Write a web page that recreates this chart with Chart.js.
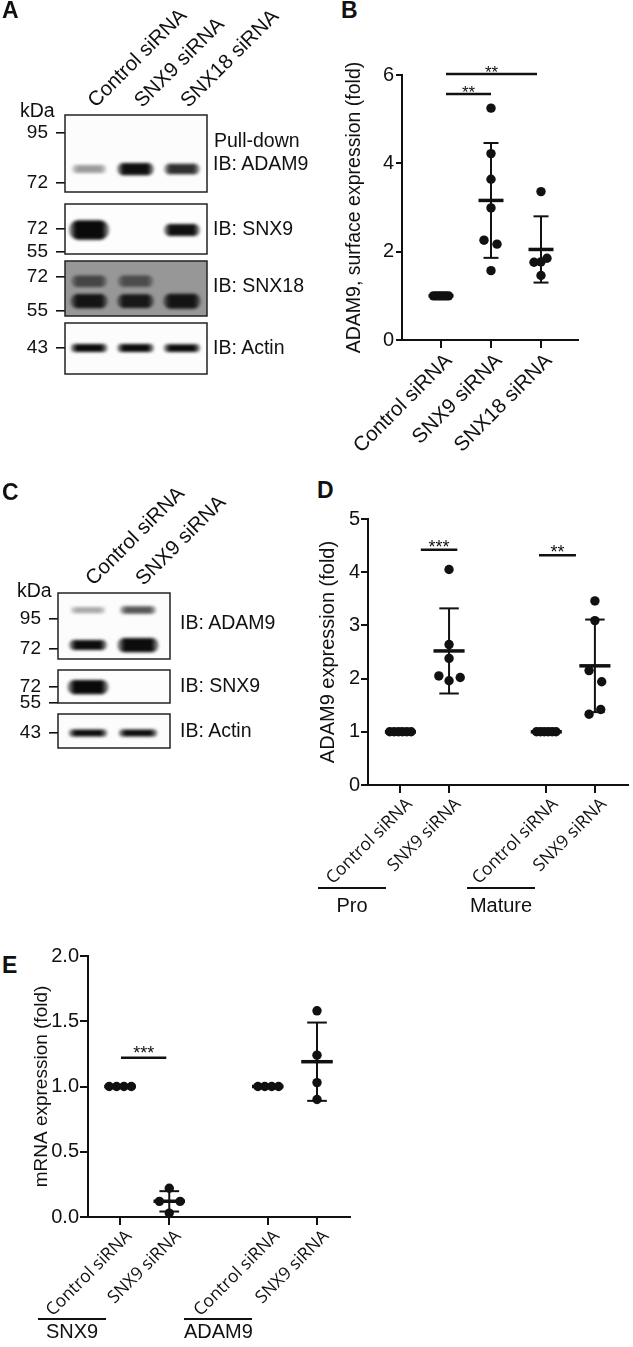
<!DOCTYPE html>
<html>
<head>
<meta charset="utf-8">
<script src="https://cdn.jsdelivr.net/npm/chart.js@4.4.1/dist/chart.umd.min.js"></script>
<style>
  body { margin: 0; background: #fff; }
  #fig { position: relative; width: 633px; height: 1347px; overflow: hidden; color: #111;
         font-family: "Liberation Sans", Arial, sans-serif; }
  #fig canvas { position: absolute; }
  .lbl { position: absolute; white-space: nowrap; line-height: 1; font-size: 19.5px; }
  .panel { position: absolute; line-height: 1; font-size: 23px; font-weight: bold; }
  .grp { position: absolute; border-top: 2px solid #111; text-align: center; font-size: 20px; line-height: 1; }
</style>
</head>
<body>
<div id="fig"></div>
<script>
// Figure: ADAM9 / SNX9 / SNX18 knockdown panels A-E

const ink = '#111';
const sans = '"Liberation Sans", Arial, sans-serif';
const humanist = '"Open Sans", "Noto Sans", sans-serif';
Chart.defaults.font.family = sans;
Chart.defaults.color = ink;

// ---------- data ----------

// Panel A blot (bands: lane, kDa, signal)
const lanesA = ['Control siRNA', 'SNX9 siRNA', 'SNX18 siRNA'];
const probesA = ['IB: ADAM9', 'IB: SNX9', 'IB: SNX18', 'IB: Actin'];
const markersA = [[95, 72], [72, 55], [72, 55], [43]];
const kdaRangeA = [[68.5, 105], [53.7, 96.5], [52.9, 81.8], [36.2, 50.8]];
const bandsA = [
  [[0, 77.8, 0.35], [1, 77.8, 1.05], [2, 77.8, 0.75]],
  [[0, 71.2, 2.0], [2, 71.2, 0.85]],
  [[0, 69.7, 0.55], [1, 69.7, 0.5], [0, 59.5, 0.9], [1, 59.5, 0.85], [2, 59.5, 1.0]],
  [[0, 43, 1.0], [1, 43, 1.0], [2, 43, 0.95]]
];

// Panel B
const catsB = ['Control siRNA', 'SNX9 siRNA', 'SNX18 siRNA'];
const posB = [1, 2, 3];
const valsB = [
  [1, 1, 1, 1, 1, 1, 1],
  [5.25, 4.22, 3.64, 2.99, 2.26, 2.17, 1.57],
  [3.36, 1.76, 1.77, 1.85, 1.46]
];
const jitB = [
  [-0.15, -0.1, -0.05, 0, 0.05, 0.1, 0.15],
  [0, 0, 0, 0, -0.14, 0.12, 0],
  [0, -0.14, 0, 0.12, 0]
];
const meanB = [1, 3.16, 2.05];
const sdB = [0, 1.30, 0.75];
const sigB = [[1.1, 2.0, 5.57, '**'], [1.1, 2.92, 6.02, '**']];
const yTicksB = [0, 2, 4, 6];

// Panel C blot
const lanesC = ['Control siRNA', 'SNX9 siRNA'];
const probesC = ['IB: ADAM9', 'IB: SNX9', 'IB: Actin'];
const markersC = [[95, 72], [72, 55], [43]];
const kdaRangeC = [[65.7, 120.8], [55, 95.9], [38.9, 48.8]];
const bandsC = [
  [[0, 103.2, 0.3], [1, 103.2, 0.6], [0, 74.7, 1.1], [1, 74.7, 2.0]],
  [[0, 72, 2.0]],
  [[0, 43, 1.0], [1, 43, 1.0]]
];

// Panel D
const catsD = ['Control siRNA', 'SNX9 siRNA', 'Control siRNA', 'SNX9 siRNA'];
const posD = [1, 2, 4, 5];
const groupsD = ['Pro', 'Mature'];
const valsD = [
  [1, 1, 1, 1, 1, 1],
  [4.05, 2.64, 2.38, 2.05, 2.02, 1.96],
  [1, 1, 1, 1, 1, 1],
  [3.46, 3.09, 2.15, 1.94, 1.42, 1.33]
];
const jitD = [
  [-0.22, -0.13, -0.04, 0.04, 0.13, 0.22],
  [0, 0, 0, -0.21, 0.23, 0],
  [-0.2, -0.12, -0.04, 0.04, 0.12, 0.2],
  [0, 0, -0.12, 0.14, 0.12, -0.12]
];
const meanD = [1, 2.52, 1, 2.24];
const sdD = [0, 0.80, 0, 0.87];
const sigD = [[1.42, 2.17, 4.42, '***'], [3.85, 4.61, 4.32, '**']];
const yTicksD = [0, 1, 2, 3, 4, 5];

// Panel E
const catsE = ['Control siRNA', 'SNX9 siRNA', 'Control siRNA', 'SNX9 siRNA'];
const posE = [1, 2, 4, 5];
const groupsE = ['SNX9', 'ADAM9'];
const valsE = [
  [1, 1, 1, 1],
  [0.22, 0.12, 0.12, 0.03],
  [1, 1, 1, 1],
  [1.58, 1.24, 1.03, 0.90]
];
const jitE = [
  [-0.22, -0.07, 0.08, 0.23],
  [0, -0.2, 0.22, 0],
  [-0.2, -0.06, 0.08, 0.22],
  [0, 0, 0, 0]
];
const meanE = [1, 0.12, 1, 1.19];
const sdE = [0, 0.078, 0, 0.30];
const sigE = [[1.02, 1.94, 1.22, '***']];
const yTicksE = [0, 0.5, 1, 1.5, 2];

// ---------- helpers ----------

const fig = document.getElementById('fig');

function makeCanvas(left, top, w, h) {
  const c = document.createElement('canvas');
  c.width = w; c.height = h;
  c.style.left = left + 'px'; c.style.top = top + 'px';
  c.style.width = w + 'px'; c.style.height = h + 'px';
  fig.appendChild(c);
  return c;
}

function addText(txt, left, top, cls) {
  const d = document.createElement('div');
  d.className = cls;
  d.textContent = txt;
  d.style.left = left + 'px';
  d.style.top = top + 'px';
  fig.appendChild(d);
  return d;
}

function addGroup(txt, left, right, top, gap) {
  const d = addText(txt, left, top, 'grp');
  d.style.width = (right - left) + 'px';
  d.style.paddingTop = gap + 'px';
}

// one blot strip = one small chart; kDa on a log axis, lanes on a linear axis
function blot(lanes, laneRange, boxX, box, markers, range, bands, look, laneShift) {
  const withLanes = laneShift !== null;
  const [x0, x1] = boxX;
  const [top, bottom] = box;
  const cW = 300;
  const cTop = withLanes ? top - 115 : top - 20;
  const canvas = makeCanvas(0, cTop, cW, bottom - cTop + 20);

  const bandPlugin = {
    id: 'bands',
    beforeDatasetsDraw(chart) {
      const { ctx, chartArea: a } = chart;
      ctx.save();
      ctx.fillStyle = look.bg;
      ctx.fillRect(a.left, a.top, a.width, a.height);
      ctx.restore();
    },
    afterDatasetsDraw(chart) {
      const { ctx, chartArea: a, scales: { x, y } } = chart;
      const lanePx = x.getPixelForValue(1) - x.getPixelForValue(0);
      ctx.save();
      ctx.beginPath();
      ctx.rect(a.left, a.top, a.width, a.height);
      ctx.clip();
      ctx.filter = 'blur(1.4px)';
      chart.data.datasets[0].data.forEach(b => {
        const cx = x.getPixelForValue(b.x), cy = y.getPixelForValue(b.y);
        const w = look.width * lanePx * (0.9 + 0.1 * b.s);
        const h = look.thick * (0.5 + 0.5 * b.s);
        const al = Math.min(1, 1.15 * b.s);
        const col = k => 'rgba(' + look.ink + ',' + (al * k).toFixed(3) + ')';
        const g = ctx.createLinearGradient(cx - w / 2, 0, cx + w / 2, 0);
        g.addColorStop(0, col(0.35));
        g.addColorStop(0.18, col(1));
        g.addColorStop(0.82, col(1));
        g.addColorStop(1, col(0.35));
        ctx.fillStyle = g;
        ctx.beginPath();
        ctx.roundRect(cx - w / 2, cy - h / 2, w, h, h / 2);
        ctx.fill();
      });
      ctx.restore();
      ctx.save();
      ctx.strokeStyle = '#222';
      ctx.lineWidth = 1.5;
      ctx.strokeRect(a.left, a.top, a.width, a.height);
      ctx.restore();
    }
  };

  return new Chart(canvas, {
    type: 'scatter',
    data: { datasets: [{ data: bands.map(b => ({ x: b[0], y: b[1], s: b[2] })), pointRadius: 0 }] },
    options: {
      responsive: false,
      animation: false,
      events: [],
      layout: { padding: { top: withLanes ? 0 : 20, bottom: 20, left: 0, right: cW - x1 } },
      plugins: { legend: { display: false }, tooltip: { enabled: false } },
      scales: {
        x: {
          type: 'linear', position: 'top', display: withLanes,
          min: laneRange[0], max: laneRange[1],
          afterBuildTicks: s => { s.ticks = lanes.map((l, i) => ({ value: i })); },
          afterFit: s => {
            s.height = withLanes ? 115 : 0;
            s.paddingLeft = 0; s.paddingRight = 0;
          },
          grid: { display: false, drawTicks: false },
          border: { display: false },
          ticks: { autoSkip: false, minRotation: 45, maxRotation: 45, padding: 2,
                   labelOffset: laneShift || 0,
                   font: { size: 20.5 }, callback: v => lanes[v] }
        },
        y: {
          type: 'logarithmic', min: range[0], max: range[1],
          afterBuildTicks: s => { s.ticks = markers.map(v => ({ value: v })); },
          afterFit: s => { s.width = x0; s.paddingTop = 0; s.paddingBottom = 0; },
          grid: { drawOnChartArea: false, tickLength: 9, lineWidth: 1.6, color: ink },
          border: { display: false },
          ticks: { padding: 8, font: { size: 19 }, callback: v => String(v) }
        }
      }
    },
    plugins: [bandPlugin]
  });
}

// dot plot with mean +/- SD and significance bars
function dotChart(canvas, o) {
  const datasets = o.vals.map((vals, g) => ({
    data: vals.map((v, i) => ({ x: o.pos[g] + o.jit[g][i], y: v })),
    pointRadius: 4.7, pointHoverRadius: 4.7, pointBackgroundColor: ink, pointBorderWidth: 0, clip: false
  }));

  const stats = {
    id: 'stats',
    afterDatasetsDraw(chart) {
      const { ctx, scales: { x, y } } = chart;
      const ux = x.getPixelForValue(1) - x.getPixelForValue(0);
      const seg = (xa, ya, xb, yb, w) => {
        ctx.lineWidth = w;
        ctx.beginPath(); ctx.moveTo(xa, ya); ctx.lineTo(xb, yb); ctx.stroke();
      };
      ctx.save();
      ctx.strokeStyle = ink;
      ctx.fillStyle = ink;
      o.mean.forEach((m, g) => {
        const cx = x.getPixelForValue(o.pos[g]);
        if (o.sd[g] > 0) {
          const hi = y.getPixelForValue(m + o.sd[g]), lo = y.getPixelForValue(m - o.sd[g]);
          seg(cx, hi, cx, lo, 2);
          seg(cx - o.cap * ux, hi, cx + o.cap * ux, hi, 2);
          seg(cx - o.cap * ux, lo, cx + o.cap * ux, lo, 2);
        }
        const my = y.getPixelForValue(m);
        seg(cx - o.meanW * ux, my, cx + o.meanW * ux, my, 3.5);
      });
      ctx.font = o.starSize + 'px ' + sans;
      ctx.textAlign = 'center';
      ctx.textBaseline = 'alphabetic';
      o.sig.forEach(s => {
        const xa = x.getPixelForValue(s[0]), xb = x.getPixelForValue(s[1]), yy = y.getPixelForValue(s[2]);
        seg(xa, yy, xb, yy, 2.5);
        ctx.fillText(s[3], (xa + xb) / 2, yy + o.starDy);
      });
      ctx.restore();
    }
  };

  return new Chart(canvas, {
    type: 'scatter',
    data: { datasets },
    options: {
      responsive: false,
      animation: false,
      events: [],
      layout: { padding: o.pad },
      plugins: { legend: { display: false }, tooltip: { enabled: false } },
      scales: {
        x: {
          type: 'linear', min: o.xMin, max: o.xMax,
          afterBuildTicks: s => { s.ticks = o.pos.map(p => ({ value: p })); },
          afterFit: s => { s.height = o.xH; s.paddingLeft = 0; s.paddingRight = 0; },
          grid: { drawOnChartArea: false, color: ink, lineWidth: 2, tickLength: o.xTickLen },
          border: { color: ink, width: 2 },
          ticks: { autoSkip: false, minRotation: 45, maxRotation: 45, padding: o.xPad,
                   labelOffset: o.xShift, font: o.xFont, callback: v => o.cats[o.pos.indexOf(v)] }
        },
        y: {
          type: 'linear', min: o.yMin, max: o.yMax,
          afterBuildTicks: s => { s.ticks = o.yTicks.map(v => ({ value: v })); },
          afterFit: s => { s.width = o.yW; },
          grid: { drawOnChartArea: false, color: ink, lineWidth: 2, tickLength: o.yTickLen },
          border: { color: ink, width: 2 },
          ticks: { padding: o.yPad, font: { size: o.yFont }, callback: v => o.fmt(v) },
          title: { display: true, text: o.title, padding: 0, font: { size: o.titleSize } }
        }
      }
    },
    plugins: [stats]
  });
}

// ---------- panel A ----------
const boxA = [[115, 192], [204, 254], [261, 316], [323, 374]];
const looksA = [
  { bg: '#fcfcfc', ink: '15,15,15', thick: 12, width: 0.8 },
  { bg: '#fdfdfd', ink: '10,10,10', thick: 13, width: 0.8 },
  { bg: '#979797', ink: '20,20,20', thick: 15, width: 0.82 },
  { bg: '#fcfcfc', ink: '12,12,12', thick: 8, width: 0.8 }
];
boxA.forEach((box, i) => {
  blot(lanesA, [-0.52, 2.54], [65, 207], box, markersA[i], kdaRangeA[i], bandsA[i], looksA[i], i === 0 ? 20 : null);
});
addText('A', 2, -1, 'panel');
addText('kDa', 20, 100.5, 'lbl');
addText('Pull-down', 214, 130.8, 'lbl');
const probeTopA = [154.2, 219.2, 275.8, 337.5];
probesA.forEach((p, i) => addText(p, 213, probeTopA[i], 'lbl'));

// ---------- panel B ----------
addText('B', 341, -1, 'panel');
dotChart(makeCanvas(300, 0, 333, 470), {
  cats: catsB, pos: posB, vals: valsB, jit: jitB, mean: meanB, sd: sdB, sig: sigB, yTicks: yTicksB,
  yMin: 0, yMax: 6, xMin: 0.22, xMax: 3.74,
  pad: { top: 75, left: 43, right: 55, bottom: 0 }, yW: 59, xH: 130,
  title: 'ADAM9, surface expression (fold)', titleSize: 19.5,
  yFont: 20, yTickLen: 6, yPad: 2,
  xFont: { family: sans, size: 20.5 }, xTickLen: 8, xPad: 1, xShift: 8,
  meanW: 0.25, cap: 0.15, starSize: 17, starDy: 4, fmt: v => String(v)
});

// ---------- panel C ----------
const boxC = [[593, 659], [670, 703], [714, 748]];
const looksC = [
  { bg: '#fcfcfc', ink: '12,12,12', thick: 9.5, width: 0.76 },
  { bg: '#fdfdfd', ink: '10,10,10', thick: 9.5, width: 0.76 },
  { bg: '#fcfcfc', ink: '12,12,12', thick: 7, width: 0.78 }
];
boxC.forEach((box, i) => {
  blot(lanesC, [-0.6, 1.64], [58, 170], box, markersC[i], kdaRangeC[i], bandsC[i], looksC[i], i === 0 ? 19 : null);
});
addText('C', 2, 481, 'panel');
addText('kDa', 17, 580.5, 'lbl');
const probeTopC = [612.5, 675.8, 720.8];
probesC.forEach((p, i) => addText(p, 180, probeTopC[i], 'lbl'));

// ---------- panel D ----------
addText('D', 317, 479, 'panel');
dotChart(makeCanvas(300, 470, 333, 430), {
  cats: catsD, pos: posD, vals: valsD, jit: jitD, mean: meanD, sd: sdD, sig: sigD, yTicks: yTicksD,
  yMin: 0, yMax: 5, xMin: 0.333, xMax: 5.687,
  pad: { top: 49, left: 16, right: 0, bottom: 0 }, yW: 52, xH: 115,
  title: 'ADAM9 expression (fold)', titleSize: 20,
  yFont: 20, yTickLen: 7, yPad: 1,
  xFont: { family: humanist, size: 17.5 }, xTickLen: 8, xPad: 1, xShift: 9,
  meanW: 0.32, cap: 0.2, starSize: 18, starDy: 3.3, fmt: v => String(v)
});
addGroup(groupsD[0], 318, 386, 887, 5.5);
addGroup(groupsD[1], 467, 535, 887, 5.5);

// ---------- panel E ----------
addText('E', 2, 954, 'panel');
dotChart(makeCanvas(0, 930, 360, 417), {
  cats: catsE, pos: posE, vals: valsE, jit: jitE, mean: meanE, sd: sdE, sig: sigE, yTicks: yTicksE,
  yMin: 0, yMax: 2, xMin: 0.35, xMax: 5.67,
  pad: { top: 26, left: 30, right: 10, bottom: 0 }, yW: 58, xH: 130,
  title: 'mRNA expression (fold)', titleSize: 19,
  yFont: 20, yTickLen: 8, yPad: 1,
  xFont: { family: humanist, size: 17.5 }, xTickLen: 8, xPad: 1, xShift: 9,
  meanW: 0.32, cap: 0.2, starSize: 18, starDy: 1.3, fmt: v => v.toFixed(1)
});
addGroup(groupsE[0], 38, 106, 1318, 1);
addGroup(groupsE[1], 184, 252, 1318, 1);
</script>
</body>
</html>
